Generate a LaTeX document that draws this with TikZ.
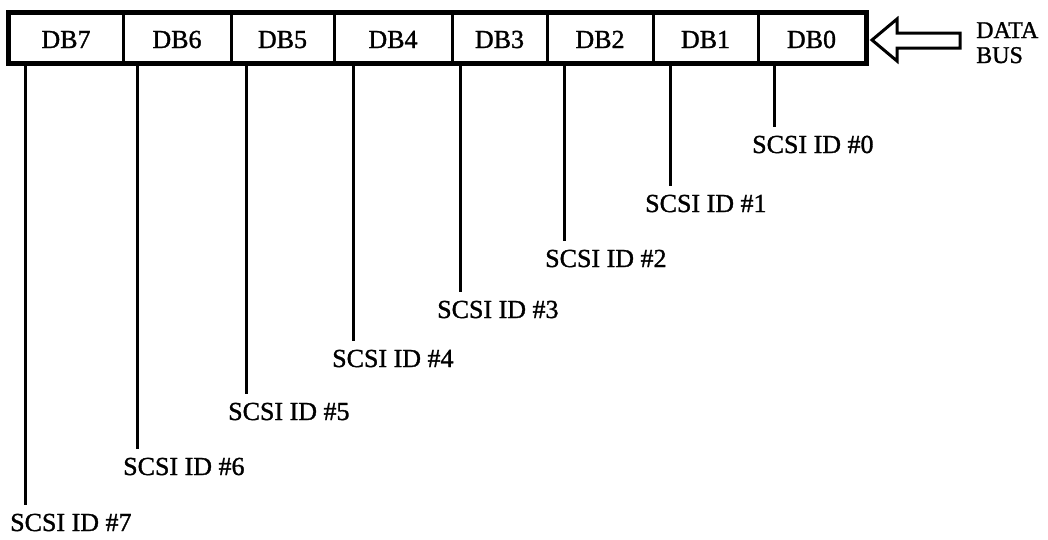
\documentclass[tikz,border=0pt]{standalone}
\usepackage{fontspec}
\setmainfont{Liberation Serif}
\newfontfamily\heavyserif[FakeBold=1.2]{Liberation Serif}
\begin{document}
\begin{tikzpicture}[x=1pt,y=-1pt,
  cell/.style={draw,line width=3pt,inner sep=0pt,minimum height=49pt,text height=21pt,text depth=0pt,font=\heavyserif\fontsize{26}{28}\selectfont},
  lab/.style={anchor=base west,inner sep=0pt,font=\heavyserif\fontsize{26}{28}\selectfont},
  buslab/.style={anchor=base west,inner sep=0pt,font=\heavyserif\fontsize{24}{26}\selectfont},
  wire/.style={line width=3pt},
  busarrow/.style={line width=3pt,line join=miter}]
\useasboundingbox (0,0) rectangle (1048,539);
% register cells (edges 9,123,231,334,452,547,653,758,865)
\node[cell,minimum width=114pt] (db7) at (66,37.5) {DB7};
\node[cell,minimum width=108pt] (db6) at (177,37.5) {DB6};
\node[cell,minimum width=103pt] (db5) at (282.5,37.5) {DB5};
\node[cell,minimum width=118pt] (db4) at (393,37.5) {DB4};
\node[cell,minimum width=95pt] (db3) at (499.5,37.5) {DB3};
\node[cell,minimum width=106pt] (db2) at (600,37.5) {DB2};
\node[cell,minimum width=105pt] (db1) at (705.5,37.5) {DB1};
\node[cell,minimum width=107pt] (db0) at (811.5,37.5) {DB0};
\draw[line width=4pt] (db7.north west) rectangle (db0.south east);
% tap points
\coordinate (t7) at ([xshift=18pt]db7.south west);
\coordinate (t6) at ([xshift=16pt]db6.south west);
\coordinate (t5) at ([xshift=17pt]db5.south west);
\coordinate (t4) at ([xshift=21pt]db4.south west);
\coordinate (t3) at ([xshift=10pt]db3.south west);
\coordinate (t2) at ([xshift=19pt]db2.south west);
\coordinate (t1) at ([xshift=19pt]db1.south west);
\coordinate (t0) at ([xshift=18pt]db0.south west);
% labels
\node[lab] (id0) at (752,153) {SCSI ID \#0};
\node[lab] (id1) at (645,212) {SCSI ID \#1};
\node[lab] (id2) at (545,267) {SCSI ID \#2};
\node[lab] (id3) at (437,318) {SCSI ID \#3};
\node[lab] (id4) at (332,367) {SCSI ID \#4};
\node[lab] (id5) at (228,420) {SCSI ID \#5};
\node[lab] (id6) at (123,475) {SCSI ID \#6};
\node[lab] (id7) at (10,531) {SCSI ID \#7};
% wires
\foreach \i in {0,...,7}{
  \draw[wire] (t\i) -- ([yshift=26pt]t\i |- id\i.base);
}
% data bus arrow
\draw[busarrow] (872,40) -- (897,19) -- (897,33) -- (960,33) -- (960,48) -- (897,48) -- (897,61) -- cycle;
\node[buslab] (data) at (976,38) {DATA};
\node[buslab] (bus) at (976,63) {BUS};
\end{tikzpicture}
\end{document}
